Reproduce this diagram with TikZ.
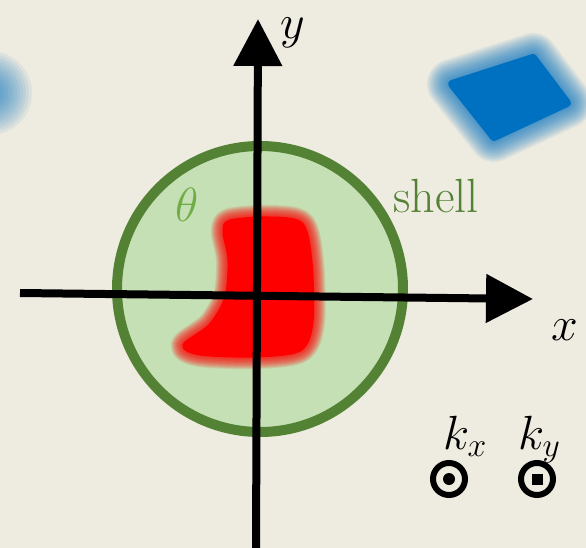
\documentclass[tikz,border=0pt]{standalone}
\usepackage{fix-cm}
\usepackage{tikz}
\usetikzlibrary{arrows.meta}
\definecolor{bg}{HTML}{EEEBE0}
\definecolor{shellgreen}{HTML}{548235}
\definecolor{shellfill}{HTML}{C5E0B4}
\definecolor{thetagreen}{HTML}{70AD47}
\definecolor{blobblue}{HTML}{0070C0}

\begin{document}
\begin{tikzpicture}[x=1pt, y=-1pt,
    axis/.style={line width=8pt, -{Triangle[length=47pt,width=47pt]}},
    lbl/.style={font=\fontsize{48}{56}\selectfont, inner sep=0pt},
    kmark/.style={draw, circle, line width=6pt, minimum size=32pt, inner sep=0pt}]
    \fill[bg] (0,0) rectangle (586,548);
    \useasboundingbox (0,0) rectangle (586,548);
    % blurred blobs
    \foreach \w in {50,47,...,2}
      \filldraw[blobblue, opacity=0.07, line width=\w pt, line join=round]
        (452,84) -- (533,58) -- (567,103) -- (494,137) -- cycle;
    \filldraw[blobblue, line width=8pt, line join=round]
        (452,84) -- (533,58) -- (567,103) -- (494,137) -- cycle;
    \foreach \r in {42,39,...,6}
      \fill[blobblue, opacity=0.07] (-10,93) circle (\r);
    % shell
    \node[circle, draw=shellgreen, fill=shellfill, line width=10pt, minimum size=286pt] (shell) at (260,289) {};
    \foreach \w in {26,24,...,2}
      \filldraw[red, opacity=0.11, line width=\w pt, line join=round]
        plot[smooth cycle] coordinates {(230,221) (270,218) (302,224) (311,262) (312,322) (300,350) (255,356) (200,354) (184,345) (210,325) (226,297) (229,260) (224,232)};
    \filldraw[red, line width=3pt]
      plot[smooth cycle] coordinates {(230,221) (270,218) (302,224) (311,262) (312,322) (300,350) (255,356) (200,354) (184,345) (210,325) (226,297) (229,260) (224,232)};
    % axes
    \coordinate (xs) at (20,293);
    \coordinate (xe) at (533,299);
    \coordinate (ys) at (256,550);
    \coordinate (ye) at (258,19);
    \draw[axis] (xs) -- (xe);
    \draw[axis] (ys) -- (ye);
    \node[lbl, anchor=base] (xlbl) at (565,340) {$x$};
    \node[lbl, anchor=base] (ylbl) at (293,39) {$y$};
    % labels
    \node[lbl, anchor=base, text=thetagreen] (theta) at (187,222) {$\theta$};
    \node[lbl, anchor=base, text=shellgreen] (shelllbl) at (436,212) {shell};
    \node[lbl, anchor=base west] (kx) at (443,449) {$k_x$};
    \node[lbl, anchor=base west] (ky) at (518,449) {$k_y$};
    \node[kmark] (kxmark) at (449,479) {};
    \node[kmark] (kymark) at (537,479) {};
    \node[circle, fill, minimum size=12pt, inner sep=0pt] (kxdot) at (kxmark) {};
    \node[fill, minimum size=11pt, inner sep=0pt] (kysq) at (kymark) {};
\end{tikzpicture}
\end{document}
